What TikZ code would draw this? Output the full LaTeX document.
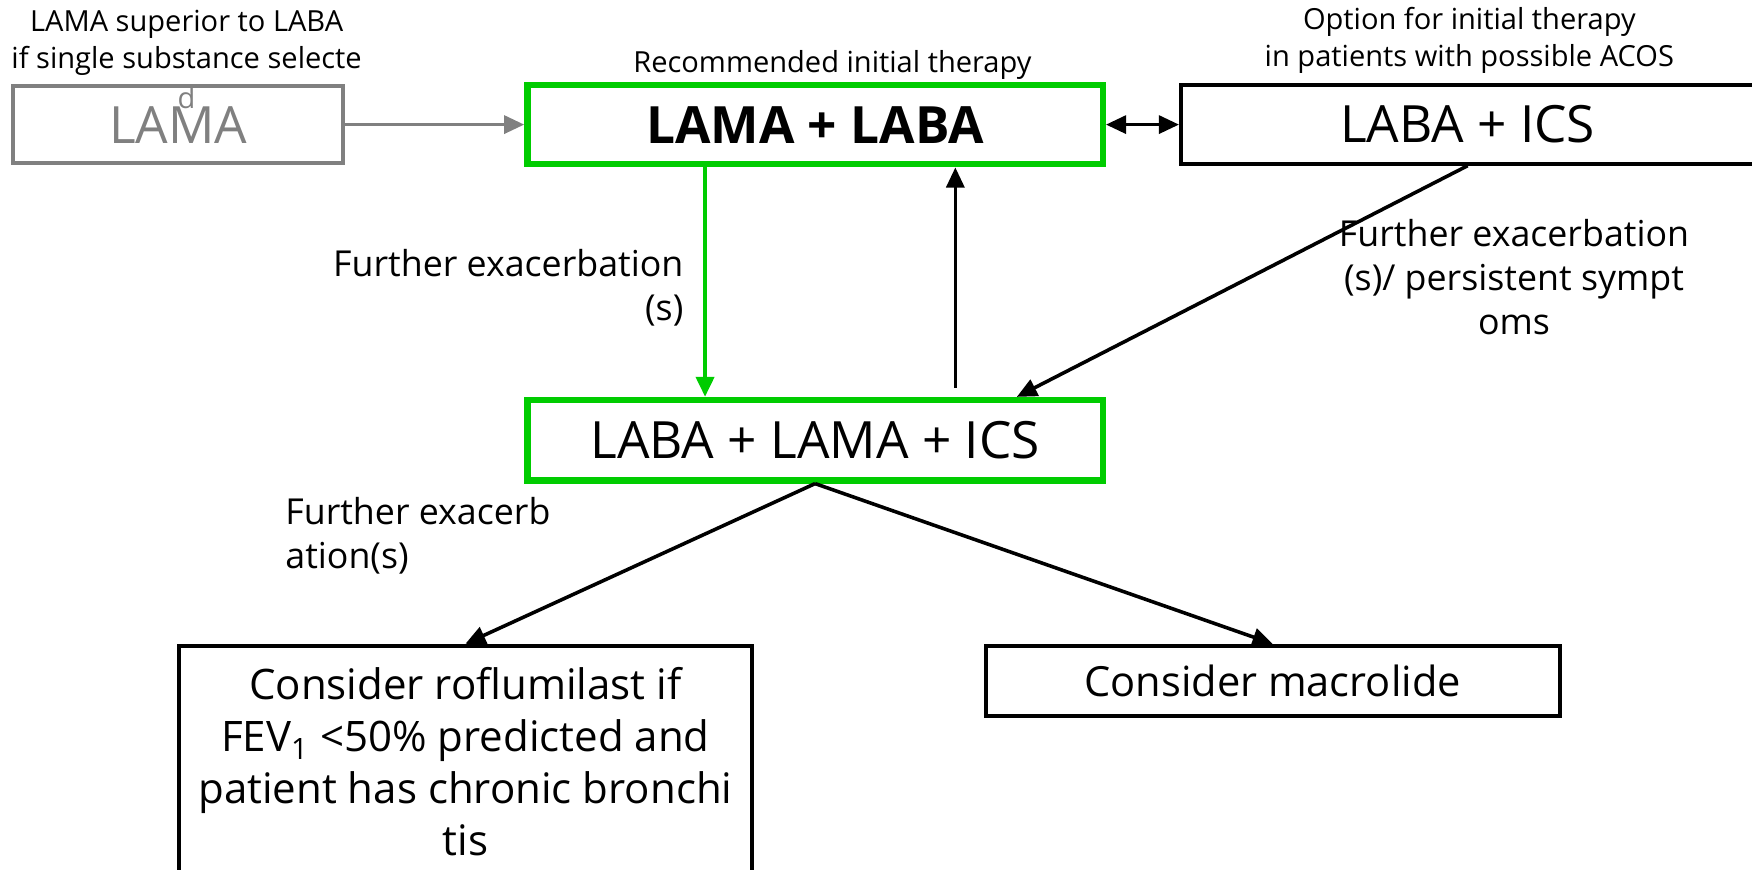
\documentclass[tikz,border=0pt]{standalone}
\usepackage{fontspec}
\setmainfont{Open Sans}
\usetikzlibrary{arrows.meta}
\definecolor{boxgreen}{RGB}{0,204,0}
\definecolor{boxgray}{RGB}{128,128,128}

\begin{document}
\begin{tikzpicture}[x=0.5pt,y=-0.5pt,
  box/.style={draw, line width=1.8pt, inner sep=0pt, font=\fontsize{23}{26}\selectfont},
  greenbox/.style={box, draw=boxgreen, line width=2.8pt},
  lbl/.style={inner sep=0pt, font=\fontsize{16}{19.5}\selectfont},
  small/.style={inner sep=0pt, align=center, font=\fontsize{13}{16.5}\selectfont},
  link/.style={line width=1.6pt, -{Triangle[length=9pt,width=8pt]}}]
\useasboundingbox (0,0) rectangle (1568,778);

% column positions of the vertical links
\coordinate (downx) at (631,0);
\coordinate (upx) at (855,0);
\coordinate (tipx) at (910,0);

\node[small] (lamahead) at (167,38.5) {LAMA superior to LABA\\if single substance selecte};
\node[box, draw=boxgray, text=boxgray, minimum width=147.5pt, minimum height=34.5pt] (lama) at (159.5,111.5) {LAMA};
\node[small, text=boxgray] (dlet) at (167,87) {d};

\node[small] (rechead) at (745,58) {Recommended initial therapy};
\node[greenbox, minimum width=257.5pt, minimum height=35.5pt, font=\fontsize{23}{26}\selectfont\bfseries] (dual) at (729.5,111.5) {LAMA + LABA};

\node[small] (opthead) at (1315,36.5) {Option for initial therapy\\in patients with possible ACOS};
\node[box, minimum width=256.5pt, minimum height=35pt] (labaics) at (1313.5,111.5) {LABA + ICS};

\node[greenbox, minimum width=257.5pt, minimum height=36pt] (triple) at (729.5,394) {LABA + LAMA + ICS};

\node[lbl, align=right, anchor=east] (exa) at (612,257.5) {Further exacerbation\\(s)};
\node[lbl, align=center] (exb) at (1355,248) {Further exacerbation\\(s)/ persistent sympt\\oms};
\node[lbl, align=left, anchor=west] (exc) at (255,479.5) {Further exacerb\\ation(s)};

\node[box, minimum width=256.5pt, minimum height=103.5pt, align=center, font=\fontsize{18.8}{23.2}\selectfont] (roflu) at (416.5,681.5) {Consider roflumilast if\\FEV\textsubscript{1} <50\% predicted and\\patient has chronic bronchi\\tis};
\node[box, minimum width=257pt, minimum height=31.5pt, font=\fontsize{18.6}{23}\selectfont] (macro) at (1139,609.5) {Consider macrolide};

\draw[link, draw=boxgray, fill=boxgray] (lama) -- (dual);
\draw[link, {Triangle[length=9pt,width=8pt]}-{Triangle[length=9pt,width=8pt]}] (dual) -- (labaics);
\draw[link, draw=boxgreen, fill=boxgreen, line width=2pt] (dual.south -| downx) -- (triple.north -| downx);
\draw[link] ([yshift=4pt]triple.north -| upx) -- (dual.south -| upx);
\draw[link] (labaics.south) -- (triple.north -| tipx);
\draw[link] (triple.south) -- (roflu.north);
\draw[link] (triple.south) -- (macro.north);
\end{tikzpicture}
\end{document}
